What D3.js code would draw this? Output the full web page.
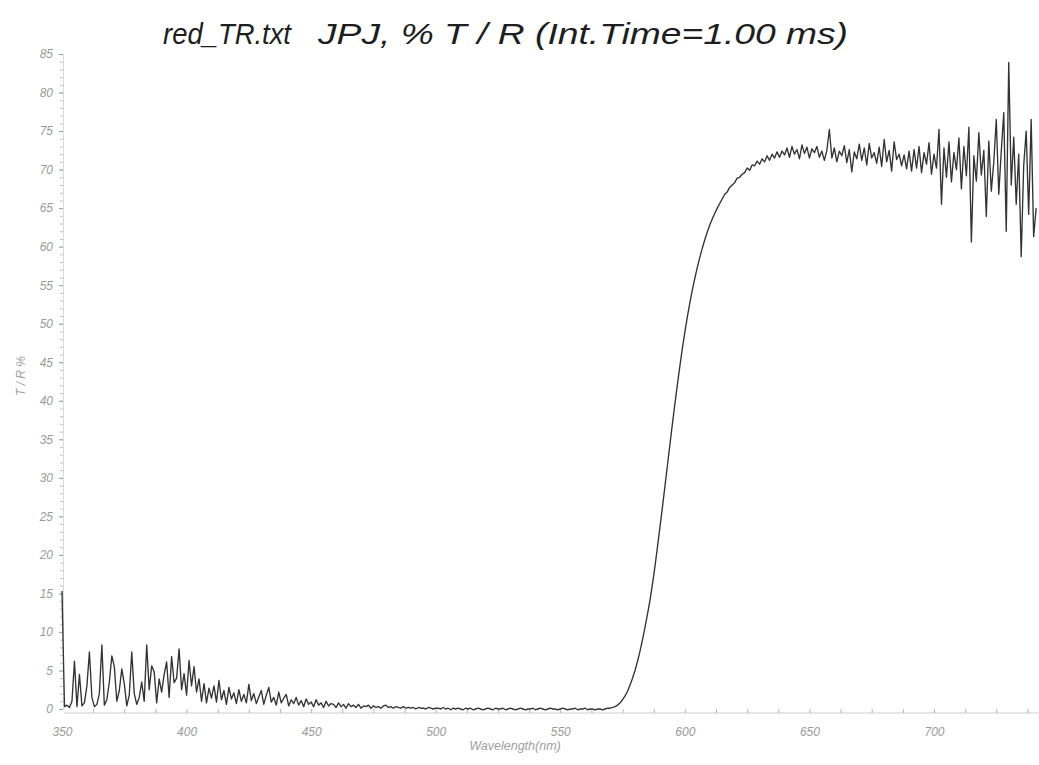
<!DOCTYPE html>
<html><head><meta charset="utf-8">
<script src="https://cdn.jsdelivr.net/npm/d3@7"></script>
<style>body{margin:0;background:#fff;} svg{display:block;}</style>
</head><body><svg id="chart" width="1039" height="765"></svg>
<script>
const startWavelength = 350;
const uvNoise = [ // 350-420 nm
 15.3,0.3,0.5,0.2,1.0,6.2,0.3,4.5,0.4,0.8,
 3.0,7.4,1.5,0.3,0.6,2.0,8.3,0.5,1.2,3.5,
 6.9,5.5,1.0,2.4,5.2,3.3,0.4,1.8,7.4,2.0,
 0.6,1.5,3.5,1.0,8.3,2.5,5.6,4.8,0.8,3.9,
 2.2,4.5,6.1,1.5,6.8,3.4,4.0,7.8,2.5,4.6,
 1.8,6.3,3.0,5.5,2.2,3.9,1.0,3.3,0.8,2.7,
 1.4,3.0,0.9,3.7,1.2,2.4,0.6,2.8,1.3,2.1,0.7];
const blueTail = [ // 421-500 nm
 2.5,1.0,1.9,0.8,3.2,1.1,2.0,0.7,1.6,2.4,
 0.6,1.8,2.8,0.9,1.5,0.5,2.2,0.8,1.4,1.9,
 0.4,1.2,0.7,1.5,0.5,1.1,0.3,1.3,0.6,0.9,
 0.3,1.2,0.5,0.8,0.2,1.0,0.4,0.7,0.6,0.2,
 0.8,0.3,0.6,0.1,0.7,0.3,0.5,0.2,0.6,0.1,
 0.4,0.3,0.5,0.1,0.4,0.2,0.3,0.1,0.4,0.5,
 0.2,0.3,0.1,0.3,0.2,0.1,0.3,0.1,0.2,0.1,
 0.2,0.0,0.2,0.1,0.1,0.0,0.2,0.1,0.0,0.1];
const baseline = [ // 501-570 nm
 0.1,0.0,0.2,0.0,0.1,-0.1,0.1,0.0,0.1,0.0,
 -0.1,0.1,0.0,0.1,-0.1,0.0,0.1,0.0,-0.1,0.0,
 0.1,0.0,-0.1,0.1,0.0,0.0,0.1,-0.1,0.0,0.1,
 0.0,-0.1,0.0,0.1,0.0,-0.1,0.0,0.0,0.1,-0.1,
 0.0,0.1,0.0,-0.1,0.0,0.1,0.0,0.0,-0.1,0.0,
 0.1,0.0,-0.1,0.0,0.0,0.1,-0.1,0.0,0.0,0.1,
 -0.1,0.0,0.0,-0.1,0.0,0.0,-0.1,0.0,0.1,0.1];
const edgeRise = [ // 571-640 nm
 0.2,0.3,0.5,0.8,1.2,1.7,2.3,3.1,4.0,5.0,
 6.2,7.5,9.0,10.6,12.3,14.1,16.2,18.5,21.0,23.6,
 26.2,28.9,31.6,34.3,37.0,39.6,42.1,44.5,46.8,48.9,
 50.9,52.7,54.4,55.9,57.3,58.6,59.8,60.9,61.9,62.8,
 63.6,64.3,65.0,65.6,66.2,66.8,67.1,67.7,68.0,68.3,
 68.9,69.0,69.4,69.6,70.2,69.9,70.6,70.5,71.1,70.7,
 71.4,71.0,71.8,71.2,72.0,71.5,72.3,71.6,72.4,71.9];
const plateau = [ // 641-700 nm
 72.8,71.6,73.0,72.0,72.6,71.4,73.2,72.1,72.9,71.5,
 72.7,72.2,73.0,71.6,72.4,71.2,72.5,75.2,71.5,72.8,
 71.0,72.4,71.8,73.1,70.9,72.6,69.7,72.3,71.4,73.3,
 71.2,72.8,70.6,73.4,71.5,72.2,70.8,72.9,70.4,73.9,
 71.0,72.5,69.8,73.6,71.3,72.0,70.5,71.9,70.1,72.4,
 69.8,72.6,70.2,73.0,69.6,72.2,70.7,73.5,69.4,72.0];
const nirNoise = [ // 701-741 nm
 70.2,75.2,65.5,72.8,69.0,73.6,68.4,72.2,70.0,74.1,
 67.5,73.0,69.2,75.5,60.6,71.8,68.5,74.8,69.3,72.5,
 63.9,73.7,67.2,71.0,76.5,66.8,72.4,77.4,62.0,83.9,
 68.0,74.2,65.5,72.0,58.7,70.5,75.0,64.2,76.5,61.3,65.0];

const xTickValues = [350,400,450,500,550,600,650,700];
const yTickValues = [0,5,10,15,20,25,30,35,40,45,50,55,60,65,70,75,80,85];
const titleFile = "red_TR.txt";
const titleMain = "JPJ, % T / R (Int.Time=1.00 ms)";
const xLabel = "Wavelength(nm)";
const yLabel = "T / R %";

// ---- build ----
const values = [].concat(uvNoise, blueTail, baseline, edgeRise, plateau, nirNoise);
const data = values.map((v, i) => ({wl: startWavelength + i, v}));

const W = 1039, H = 765;
const svg = d3.select("#chart");
const x = d3.scaleLinear().domain([350, 700]).range([62, 934]);
const y = d3.scaleLinear().domain([0, 85]).range([709, 54]);
const axisX = 64, axisY = 713;

svg.append("defs").append("clipPath").attr("id", "clip")
  .append("rect").attr("x", 0).attr("y", 0).attr("width", W).attr("height", H);

const labelFont = "'Liberation Sans', Arial, sans-serif";

// Y axis: minor ticks
const yMinor = svg.append("g").attr("transform", `translate(${axisX - 1},0)`)
  .call(d3.axisLeft(y).tickValues(d3.range(0, 86, 1)).tickSize(3).tickFormat(""));
yMinor.select(".domain").remove();
yMinor.selectAll("line").attr("stroke", "#b0b0b0").attr("stroke-width", 0.8);

const yAxis = svg.append("g").attr("transform", `translate(${axisX - 1},0)`)
  .call(d3.axisLeft(y).tickValues(yTickValues).tickSize(4).tickPadding(6));
yAxis.select(".domain").attr("stroke", "#d0d0d0").attr("stroke-width", 0.8);
yAxis.selectAll("line").attr("stroke", "#a0a0a0");
yAxis.selectAll("text").attr("fill", "#9a9a9a").style("font-family", labelFont)
  .style("font-style", "italic").style("font-size", "12px");

// X axis line
svg.append("line").attr("x1", axisX).attr("x2", W).attr("y1", axisY).attr("y2", axisY)
  .attr("stroke", "#cfcfcf").attr("stroke-width", 1);

const xMinor = svg.append("g").attr("transform", `translate(0,${axisY})`)
  .call(d3.axisBottom(x).tickValues(d3.range(362.5, 741, 12.5)).tickSize(-4).tickFormat(""));
xMinor.select(".domain").remove();
xMinor.selectAll("line").attr("stroke", "#b5b5b5");

const xAxis = svg.append("g").attr("transform", `translate(0,${axisY})`)
  .call(d3.axisBottom(x).tickValues(xTickValues).tickSize(0).tickPadding(14));
xAxis.select(".domain").remove();
xAxis.selectAll("text").attr("fill", "#9a9a9a").style("font-family", labelFont)
  .style("font-style", "italic").style("font-size", "12px");

// data line
svg.append("path").datum(data)
  .attr("clip-path", "url(#clip)")
  .attr("fill", "none").attr("stroke", "#333").attr("stroke-width", 1.35)
  .attr("stroke-linejoin", "round")
  .attr("d", d3.line().x(d => x(d.wl)).y(d => y(d.v)));

// axis titles
svg.append("text").attr("x", 515).attr("y", 750).attr("text-anchor", "middle")
  .attr("fill", "#a0a0a0").style("font-family", labelFont).style("font-style", "italic")
  .style("font-size", "12.5px").text(xLabel);
svg.append("text").attr("transform", "translate(25,376) rotate(-90)").attr("text-anchor", "middle")
  .attr("fill", "#a0a0a0").style("font-family", labelFont).style("font-style", "italic")
  .style("font-size", "12px").text(yLabel);

// title
svg.append("text").attr("x", 163).attr("y", 44).attr("fill", "#1e1e1e")
  .style("font-family", labelFont).style("font-style", "italic").style("font-size", "30px")
  .attr("textLength", 128).attr("lengthAdjust", "spacingAndGlyphs")
  .text(titleFile);
svg.append("text").attr("x", 318).attr("y", 44).attr("fill", "#1e1e1e")
  .style("font-family", labelFont).style("font-style", "italic").style("font-size", "30px")
  .attr("textLength", 530).attr("lengthAdjust", "spacingAndGlyphs")
  .text(titleMain);
</script></body></html>
